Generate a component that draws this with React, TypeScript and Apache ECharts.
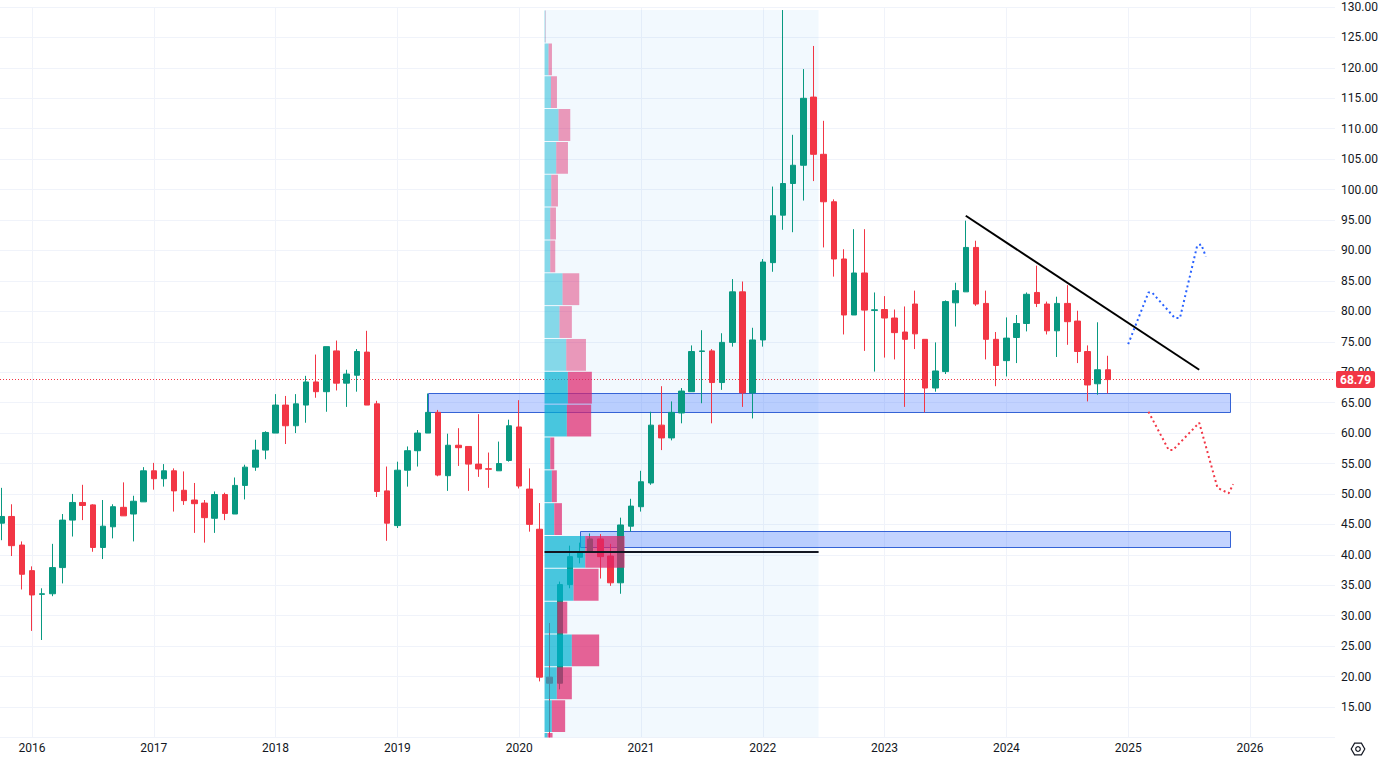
import React, { useEffect, useRef } from 'react';
import * as echarts from 'echarts';

// ---------- DATA ----------
const FIRST_MONTH = '2015-10';
// Monthly OHLC (WTI crude), Oct 2015 .. Nov 2024
const open = [
  45.2, 46.3, 41.6,
  37.4, 33.5, 33.6, 37.9, 45.7, 48.6, 48.2, 41.2, 44.6, 47.8, 46.7, 48.7,
  53.8, 52.5, 53.8, 50.6, 49.0, 48.5, 46.0, 49.9, 46.7, 51.4, 54.4, 57.2,
  60.0, 64.6, 61.2, 64.6, 68.4, 66.8, 73.5, 68.2, 69.5, 73.3, 64.8, 50.5,
  44.8, 53.9, 57.1, 60.0, 63.4, 53.0, 58.0, 57.8, 54.9, 54.15, 53.8, 55.5,
  61.0, 50.8, 44.2, 19.9, 18.9, 35.1, 39.6, 40.4, 42.6, 39.8, 35.4, 44.7,
  47.9, 51.8, 61.3, 59.2, 63.3, 66.8, 73.4, 73.5, 68.3, 74.9, 83.2, 66.6,
  75.3, 88.0, 95.8, 101.0, 104.0, 115.2, 105.8, 98.0, 88.6, 79.4, 86.3, 80.15,
  80.3, 78.9, 76.6, 81.2, 75.4, 67.4, 70.1, 81.4, 83.2, 90.5, 81.3, 75.4,
  71.9, 75.7, 78.0, 83.1, 81.2, 76.8, 81.3, 78.4, 73.4, 68.1, 70.4,
];
const close = [
  46.3, 41.5, 36.8,
  33.4, 33.6, 37.9, 45.7, 48.6, 48.1, 41.2, 44.7, 47.9, 46.4, 48.8, 53.8,
  52.5, 53.8, 50.5, 48.9, 48.4, 46.1, 49.9, 46.8, 51.4, 54.4, 57.2, 60.1,
  64.6, 61.2, 64.8, 68.4, 66.8, 74.2, 68.2, 69.7, 73.4, 64.6, 50.4, 45.2,
  53.9, 57.1, 60.0, 63.4, 53.1, 58.0, 57.6, 54.9, 54.1, 54.05, 55.0, 61.2,
  51.3, 45.0, 19.9, 18.9, 35.1, 39.7, 40.4, 42.6, 39.7, 35.4, 44.9, 48.0,
  52.0, 61.3, 59.2, 63.4, 66.9, 73.4, 73.5, 68.3, 74.9, 83.2, 66.6, 75.3,
  88.1, 95.7, 101.0, 104.0, 115.0, 105.8, 98.0, 88.6, 79.4, 86.3, 80.2, 80.25,
  78.9, 76.5, 75.4, 76.3, 67.4, 70.2, 81.6, 83.4, 90.5, 81.2, 75.4, 71.1,
  75.6, 78.0, 82.8, 81.3, 76.8, 81.3, 78.3, 73.4, 67.9, 70.4, 68.79,
];
const low = [
  42.4, 39.8, 34.3,
  27.5, 26.0, 33.2, 35.3, 43.0, 45.7, 40.5, 39.3, 42.7, 46.4, 42.2, 48.7,
  50.7, 51.2, 47.1, 48.2, 43.6, 42.0, 43.6, 45.7, 46.7, 49.1, 53.8, 55.7,
  60.0, 58.2, 60.0, 61.7, 65.8, 63.5, 67.0, 64.3, 66.8, 64.6, 49.5, 42.3,
  44.4, 51.2, 54.5, 60.0, 52.9, 50.5, 54.6, 50.5, 52.8, 51.0, 53.8, 55.3,
  50.9, 43.8, 19.2, 5.4, 17.9, 34.5, 38.6, 40.4, 36.1, 34.9, 33.6, 43.8,
  47.1, 51.5, 57.2, 58.8, 61.6, 66.8, 64.9, 61.6, 67.1, 74.2, 64.3, 62.4,
  74.2, 86.5, 93.4, 93.0, 98.2, 101.4, 90.5, 85.7, 76.2, 79.4, 73.5, 70.1,
  72.4, 72.1, 64.3, 73.8, 63.4, 66.8, 69.7, 77.5, 83.2, 80.9, 72.1, 67.7,
  69.3, 71.5, 76.7, 80.7, 76.2, 72.5, 74.5, 71.5, 65.2, 66.3, 66.5,
];
const high = [
  51.0, 48.3, 42.2,
  38.1, 34.5, 41.8, 46.7, 50.0, 51.5, 48.3, 49.0, 48.3, 51.9, 49.7, 54.4,
  55.1, 54.9, 54.2, 53.7, 51.8, 49.0, 50.4, 50.2, 52.7, 54.8, 58.9, 60.3,
  66.4, 66.1, 66.4, 69.4, 72.9, 74.2, 75.2, 70.4, 73.8, 76.8, 65.3, 54.5,
  55.3, 57.8, 60.5, 66.5, 63.8, 59.9, 60.8, 57.8, 63.1, 56.8, 58.6, 62.2,
  65.4, 54.2, 48.5, 28.8, 35.6, 41.5, 42.0, 43.5, 43.4, 41.8, 46.1, 49.2,
  53.8, 63.5, 67.7, 65.2, 67.4, 74.4, 76.9, 73.8, 76.4, 85.3, 84.9, 77.3,
  88.6, 100.5, 129.5, 109.0, 119.8, 123.6, 111.3, 98.4, 90.2, 93.5, 93.5, 83.1,
  82.5, 80.3, 80.8, 83.4, 75.4, 74.9, 81.8, 84.7, 94.9, 91.6, 83.4, 76.6,
  79.0, 79.4, 83.1, 87.5, 81.6, 82.4, 84.3, 80.1, 74.4, 78.2, 72.7,
];

const yearLabels = [2016, 2017, 2018, 2019, 2020, 2021, 2022, 2023, 2024, 2025, 2026];
const priceTicksMin = 10;
const priceTicksMax = 130;
const priceStep = 5;

// Fixed-range volume profile (Apr 2020 .. Jun 2022), rows top -> bottom
const vpFrom = '2020-04';
const vpTo = '2022-06';
const vpUp = [0.8, 4.0, 6.4, 14.0, 11.7, 6.7, 5.7, 5.7, 18.0, 15.0, 21.7, 23.3, 22.3, 5.7, 7.3, 9.7, 40.7, 29.0, 12.7, 27.3, 12.3, 7.3, 3.0];
const vpDown = [0.4, 3.4, 6.0, 11.7, 11.7, 6.7, 5.7, 5.0, 16.7, 12.3, 19.7, 24.0, 24.3, 4.0, 5.0, 7.7, 39.3, 25.0, 10.0, 27.3, 15.0, 13.3, 5.0];
const vpValueAreaFirstRow = 11;
const vpValueAreaLastRow = 22;

// Support zones (rectangles)
const zoneFrom = ['2019-04', '2020-07'];
const zoneTo = ['2025-11', '2025-11'];
const zoneTop = [66.6, 43.9];
const zoneBottom = [63.4, 41.2];

// Descending trend line
const trendMonths = ['2023-09', '2025-08'];
const trendPrices = [95.7, 70.4];

// Projections (month offset from Jan 2016, price)
const bullT = [108.0, 110.0, 110.35, 112.6, 113.1, 114.8, 115.2, 115.65];
const bullP = [74.6, 83.1, 83.1, 78.9, 78.9, 90.8, 91.0, 89.0];
const bearT = [110.0, 112.0, 112.4, 115.0, 116.8, 117.9, 118.35];
const bearP = [63.5, 57.2, 57.2, 61.7, 51.0, 50.1, 51.6];

// ---------- HELPERS ----------
const monthIndex = (m: string) => {
  const [y, mo] = m.split('-').map(Number);
  return (y - 2016) * 12 + (mo - 1);
};
const firstIdx = monthIndex(FIRST_MONTH);

const UP = '#089981';
const DOWN = '#f23645';
const FONT = 'Roboto, "Noto Sans", sans-serif';

const X_MIN = -3.15;
const MONTH_PX = 10.15;
const PLOT_W = 1335;
const X_MAX = X_MIN + PLOT_W / MONTH_PX;

export default function App() {
  const ref = useRef<HTMLDivElement>(null);

  useEffect(() => {
    if (!ref.current) return;
    const chart = echarts.init(ref.current, undefined, { renderer: 'svg' });

    const candleData = open.map((o, i) => [
      firstIdx + i,
      o,
      close[i],
      Math.max(low[i], priceTicksMin),
      high[i],
    ]);
    const lastClose = close[close.length - 1];

    const vpStart = monthIndex(vpFrom) - 0.5;
    const vpEnd = monthIndex(vpTo) + 0.5;
    let vpHigh = -Infinity;
    let vpLow = Infinity;
    open.forEach((_, i) => {
      const t = firstIdx + i;
      if (t >= vpStart && t <= vpEnd) {
        vpHigh = Math.max(vpHigh, high[i]);
        vpLow = Math.min(vpLow, low[i]);
      }
    });
    const rows = vpUp.length;
    const rowSize = (vpHigh - vpLow) / rows;
    const totals = vpUp.map((u, i) => u + vpDown[i]);
    const vpMax = Math.max(...totals);
    const pocRow = totals.indexOf(vpMax);
    const pocPrice = vpHigh - (pocRow + 0.5) * rowSize;
    const vpWidthT = 0.292 * (vpEnd - vpStart);

    const yearVals = yearLabels.map((y) => (y - 2016) * 12);

    const hex: number[][] = [];
    for (let k = 0; k < 6; k++) {
      const a = (Math.PI / 3) * k;
      hex.push([1358 + 6.8 * Math.cos(a), 749 + 6.8 * Math.sin(a)]);
    }

    const option: any = {
      animation: false,
      backgroundColor: '#ffffff',
      textStyle: { fontFamily: FONT },
      grid: { left: 0, right: 1380 - PLOT_W, top: 7, bottom: 22.6, containLabel: false, outerBoundsMode: 'none' },
      xAxis: {
        type: 'value',
        min: X_MIN,
        max: X_MAX,
        axisLine: { show: false },
        axisTick: { show: false, customValues: yearVals },
        axisLabel: {
          customValues: yearVals,
          formatter: (v: number) => String(2016 + Math.round(v / 12)),
          color: '#131722',
          fontSize: 12,
          margin: 5,
          fontFamily: FONT,
        },
        splitLine: { show: true, lineStyle: { color: '#f0f3fa', width: 1 } },
      },
      yAxis: {
        type: 'value',
        position: 'right',
        min: priceTicksMin,
        max: priceTicksMax,
        interval: priceStep,
        axisLine: { show: false },
        axisTick: { show: false },
        axisLabel: {
          formatter: (v: number) => v.toFixed(2),
          color: '#131722',
          fontSize: 12,
          margin: 6,
          showMinLabel: false,
          fontFamily: FONT,
        },
        splitLine: { show: true, lineStyle: { color: '#f0f3fa', width: 1 } },
      },
      graphic: [
        {
          type: 'polygon',
          shape: { points: hex },
          style: { fill: 'none', stroke: '#131722', lineWidth: 1.2 },
          silent: true,
        },
        {
          type: 'circle',
          shape: { cx: 1358, cy: 749, r: 2.3 },
          style: { fill: 'none', stroke: '#131722', lineWidth: 1.2 },
          silent: true,
        },
      ],
      series: [
        {
          type: 'custom',
          name: 'vpBg',
          z: 1,
          silent: true,
          clip: true,
          data: [[vpStart, vpHigh, vpEnd, priceTicksMin]],
          encode: { x: [0, 2], y: [1, 3] },
          renderItem: (_p: any, api: any) => {
            const a = api.coord([api.value(0), api.value(1)]);
            const b = api.coord([api.value(2), api.value(3)]);
            return {
              type: 'rect',
              shape: { x: a[0], y: a[1], width: b[0] - a[0], height: b[1] - a[1] },
              style: { fill: 'rgba(33,150,243,0.06)' },
            };
          },
        },
        {
          type: 'custom',
          name: 'zones',
          z: 1,
          silent: true,
          clip: true,
          data: zoneFrom.map((f, i) => [monthIndex(f), zoneTop[i], monthIndex(zoneTo[i]), zoneBottom[i]]),
          encode: { x: [0, 2], y: [1, 3] },
          renderItem: (_p: any, api: any) => {
            const a = api.coord([api.value(0), api.value(1)]);
            const b = api.coord([api.value(2), api.value(3)]);
            const x = Math.round(a[0]) + 0.5;
            const y = Math.round(a[1]) + 0.5;
            return {
              type: 'rect',
              shape: { x, y, width: Math.round(b[0] - a[0]), height: Math.round(b[1] - a[1]) },
              style: { fill: 'rgba(41,98,255,0.28)', stroke: '#3563d6', lineWidth: 1 },
            };
          },
        },
        {
          type: 'candlestick',
          name: 'price',
          z: 2,
          barWidth: 6,
          dimensions: ['t', 'open', 'close', 'lowest', 'highest'],
          encode: { x: 't', y: ['open', 'close', 'lowest', 'highest'] },
          data: candleData,
          itemStyle: {
            color: UP,
            color0: DOWN,
            borderColor: UP,
            borderColor0: DOWN,
            borderWidth: 1,
          },
          markLine: {
            silent: true,
            symbol: ['none', 'none'],
            z: 1,
            lineStyle: { color: DOWN, type: [1, 2], width: 1 },
            label: {
              show: true,
              position: 'end',
              formatter: lastClose.toFixed(2),
              color: '#ffffff',
              backgroundColor: DOWN,
              fontSize: 12,
              fontWeight: 'bold',
              fontFamily: FONT,
              padding: [3, 4, 2, 4],
              borderRadius: 2,
              distance: 1,
            },
            data: [{ yAxis: lastClose }],
          },
        },
        {
          type: 'custom',
          name: 'volumeProfile',
          z: 3,
          silent: true,
          clip: true,
          data: vpUp.map((_, i) => [vpStart, vpHigh - (i + 0.5) * rowSize, i]),
          encode: { x: 0, y: 1 },
          renderItem: (_p: any, api: any) => {
            const i = api.value(2) as number;
            const top = vpHigh - i * rowSize;
            const bot = top - rowSize;
            const pTop = api.coord([vpStart, top]);
            const pBot = api.coord([vpStart, bot]);
            const upW = (vpUp[i] / vpMax) * vpWidthT;
            const dnW = (vpDown[i] / vpMax) * vpWidthT;
            const xUp = api.coord([vpStart + upW, top])[0];
            const xDn = api.coord([vpStart + upW + dnW, top])[0];
            const inVA = i >= vpValueAreaFirstRow && i <= vpValueAreaLastRow;
            const y = pTop[1] + 0.5;
            const h = pBot[1] - pTop[1] - 1;
            return {
              type: 'group',
              children: [
                {
                  type: 'rect',
                  shape: { x: pTop[0], y, width: xUp - pTop[0], height: h },
                  style: { fill: inVA ? 'rgba(0,176,208,0.7)' : 'rgba(0,176,208,0.45)' },
                },
                {
                  type: 'rect',
                  shape: { x: xUp, y, width: xDn - xUp, height: h },
                  style: { fill: inVA ? 'rgba(222,34,105,0.7)' : 'rgba(222,34,105,0.45)' },
                },
              ],
            };
          },
        },
        {
          type: 'line',
          name: 'poc',
          z: 4,
          silent: true,
          symbol: 'none',
          data: [[vpStart, pocPrice], [vpEnd, pocPrice]],
          lineStyle: { color: '#131722', width: 2 },
        },
        {
          type: 'line',
          name: 'trend',
          z: 5,
          silent: true,
          symbol: 'none',
          data: trendMonths.map((m, i) => [monthIndex(m), trendPrices[i]]),
          lineStyle: { color: '#000000', width: 2 },
        },
        {
          type: 'line',
          name: 'bull',
          z: 5,
          silent: true,
          symbol: 'none',
          data: bullT.map((t, i) => [t, bullP[i]]),
          lineStyle: { color: '#2962ff', width: 2, type: [2, 3] },
        },
        {
          type: 'line',
          name: 'bear',
          z: 5,
          silent: true,
          symbol: 'none',
          data: bearT.map((t, i) => [t, bearP[i]]),
          lineStyle: { color: '#f23645', width: 2, type: [2, 3] },
        },
      ],
    };

    chart.setOption(option);
    return () => {
      chart.dispose();
    };
  }, []);

  return (
    <div
      ref={ref}
      style={{ position: 'absolute', left: 0, top: 0, width: 1380, height: 760, background: '#fff' }}
    />
  );
}
